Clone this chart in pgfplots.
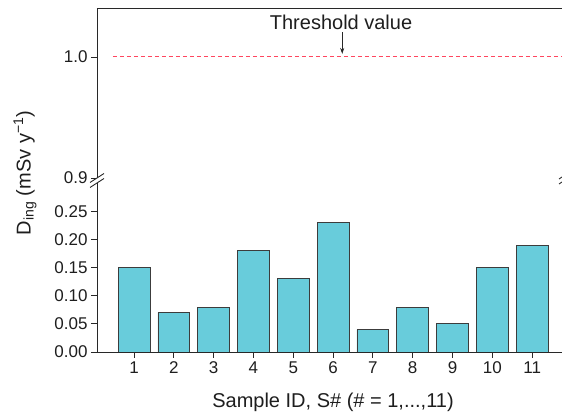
\documentclass[border=0pt]{standalone}
\usepackage{fontspec}
\setmainfont{Liberation Sans}
\usepackage{pgfplots}
\pgfplotsset{compat=1.18}
\usetikzlibrary{arrows.meta}
\definecolor{barcol}{RGB}{104,204,219}
\definecolor{edgecol}{RGB}{60,60,60}
\definecolor{axcol}{RGB}{40,40,40}
\definecolor{txtcol}{RGB}{30,30,30}
\definecolor{thr}{RGB}{255,70,95}
\pgfplotsset{
  common/.style={
    scale only axis,
    width=465pt,
    xmin=0.07, xmax=11.75,
    axis line style={-, draw=axcol, line width=0.9pt},
    tick style={draw=axcol, line width=0.9pt},
    tick align=outside,
    major tick length=6pt,
    /pgf/number format/assume math mode=true,
    ticklabel style={font=\fontsize{17}{20}\selectfont, text=txtcol},
    axis y line*=left,
  }
}
\begin{document}
\begin{tikzpicture}[x=1pt,y=1pt]
\path[use as bounding box] (-97pt,-67pt) rectangle (465pt,352pt);
% bottom panel
\begin{axis}[common,
  name=bot,
  at={(0pt,0pt)}, anchor=south west,
  height=169pt,
  axis x line*=bottom,
  ymin=0, ymax=0.3005,
  ybar, bar width=0.8,
  xtick={1,2,3,4,5,6,7,8,9,10,11},
  ytick={0,0.05,0.10,0.15,0.20,0.25},
  yticklabel style={/pgf/number format/fixed, /pgf/number format/fixed zerofill, /pgf/number format/precision=2},
  xticklabel style={/pgf/number format/fixed},
]
\addplot[fill=barcol, draw=edgecol, line width=0.8pt] coordinates {
(1,0.15) (2,0.07) (3,0.08) (4,0.18) (5,0.13) (6,0.23) (7,0.04) (8,0.08) (9,0.05) (10,0.15) (11,0.19)};
\end{axis}
% top panel
\begin{axis}[common,
  at={(0pt,174pt)}, anchor=south west,
  height=170pt,
  axis x line*=top,
  xtick=\empty,
  ymin=0.9, ymax=1.0405,
  ytick={0.9,1.0},
  yticklabel style={/pgf/number format/fixed, /pgf/number format/fixed zerofill, /pgf/number format/precision=1},
  clip=false,
]
\addplot[color=thr, line width=1pt, dash pattern=on 4pt off 3pt, mark=none] coordinates {(0.47,1.0) (11.75,1.0)};
\node[font=\fontsize{20}{24}\selectfont, text=txtcol] at (axis cs:6.2,1.0287) {Threshold value};
\draw[axcol, line width=0.8pt, -{Stealth[length=6pt,width=4pt]}] (axis cs:6.23,1.0205) -- (axis cs:6.23,1.0025);
\end{axis}
% break marks
\fill[white] (-1pt,169pt) rectangle (1pt,174pt);
\draw[axcol, line width=0.9pt] (-7pt,164.5pt) -- (7pt,173.5pt);
\draw[axcol, line width=0.9pt] (-7pt,169.5pt) -- (7pt,178.5pt);
\draw[axcol, line width=0.9pt] (462pt,168pt) -- (465pt,170pt);
\draw[axcol, line width=0.9pt] (462pt,173pt) -- (465pt,175pt);
% labels
\node[rotate=90, font=\fontsize{20}{24}\selectfont, text=txtcol] at (-72pt,179pt) {D\textsubscript{ing} (mSv y\textsuperscript{−1})};
\node[font=\fontsize{20}{24}\selectfont, text=txtcol] at (236pt,-50pt) {Sample ID, S\# (\# = 1,...,11)};
\end{tikzpicture}
\end{document}
